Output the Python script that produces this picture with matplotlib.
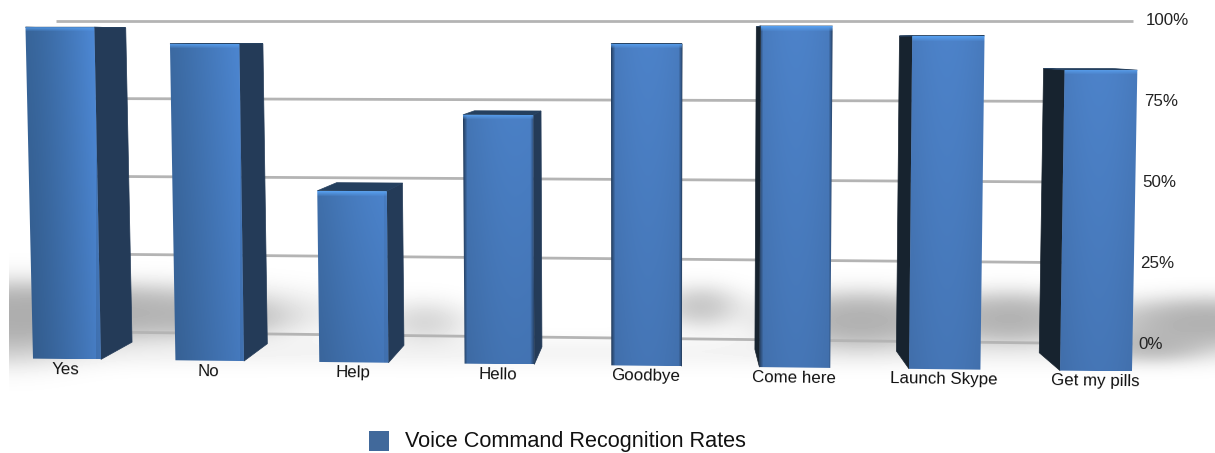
import numpy as np
import matplotlib
matplotlib.use("Agg")
import matplotlib.pyplot as plt
from matplotlib.patches import Polygon, Rectangle

plt.rcParams['font.family'] = ['Liberation Sans', 'DejaVu Sans']

# Recognition rate per voice command (percent)
commands = ["Yes", "No", "Help", "Hello", "Goodbye", "Come here", "Launch Skype", "Get my pills"]
rates = [97.6, 92.7, 49.9, 72.2, 92.8, 98, 95.2, 85.5]
tick_values = [100, 75, 50, 25, 0]
tick_labels = ["100%", "75%", "50%", "25%", "0%"]
legend_label = "Voice Command Recognition Rates"

W, H = 1215, 453

# Perspective set-up, in pixels
VANISH_X, VANISH_Y = 676, 40
BAR_BACK = 0.946    # scale of the rear face of a bar
WALL = 0.916        # scale of the wall holding the gridlines
TOP_Y = 19          # the 100% level is level across the chart
BAR_W = 34


def base_x(i):
    # bar centres spread out a little towards the right
    return 67 + 142 * i + 0.714 * i * i


def front(x, pct):
    # front plane: x, pct -> pixel position
    y0 = 359 + (x - 67) * 12 / 1029
    return x + (x - 640) * 0.0127 * pct / 100, y0 - (y0 - TOP_Y) * pct / 100


def push_back(px, py, scale):
    return VANISH_X + (px - VANISH_X) * scale, VANISH_Y + (py - VANISH_Y) * scale


def wall_y(wx, pct):
    fx = VANISH_X + (wx - VANISH_X) / WALL
    _, fy = front(fx, pct)
    return VANISH_Y + (fy - VANISH_Y) * WALL


def floor_shadow():
    # soft grey band behind the foot of the bars
    yy, xx = np.mgrid[0:H, 0:W]
    blobs = [
        (90, 312, 105, 16, 0.55),
        (8, 322, 45, 22, 0.35),
        (225, 318, 35, 11, 0.18),
        (425, 322, 28, 14, 0.13),
        (700, 306, 24, 13, 0.22),
        (860, 320, 50, 16, 0.55),
        (1010, 318, 45, 15, 0.50),
        (1205, 322, 55, 14, 0.55),
        (1150, 345, 35, 10, 0.30),
    ]
    d = np.zeros((H, W))
    for cx, cy, sx, sy, amp in blobs:
        d += amp * np.exp(-((xx - cx) / sx) ** 2 / 2 - ((yy - cy) / sy) ** 2 / 2)
    # faint fade under the baseline, all the way across
    d += 0.03 * np.exp(-((yy - 352) / 16.0) ** 2)
    d = 0.33 * (1 - np.exp(-d * 4.5))
    d[:, :9] = 0
    return 1 - d


def face_shading(i, nx, ny):
    # horizontal gradient across a front face, fading slightly towards the bottom
    u = np.linspace(0, 1, nx)
    v = np.linspace(0, 1, ny)[:, None]
    k = i / 7
    dark = np.array([0.21, 0.38, 0.58])
    bright = np.array([0.30, 0.53, 0.83])
    flat = np.array([0.27, 0.46, 0.71])
    left_bar = dark[None, :] + (bright - dark)[None, :] * (u ** 1.3)[:, None]
    left_bar[u > 0.94] *= 0.9
    right_bar = flat[None, :] * (1 + 0.07 * np.sin(u * np.pi))[:, None]
    row = (1 - min(k * 1.7, 1)) * left_bar + min(k * 1.7, 1) * right_bar
    img = row[None, :, :] * (1.04 - 0.10 * v)[:, :, None]
    # dark rims on the bars seen nearly head on
    rim = np.clip(1 - np.minimum(u, 1 - u) * nx / 4, 0, 1) * 0.45 * (3 <= i <= 5)
    img = img * (1 - rim)[None, :, None]
    # highlight along the top edge
    top = np.clip(1 - np.arange(ny) / 5.0, 0, 1)[:, None, None]
    return np.clip(img * (1 - top) + np.array([0.34, 0.62, 0.93]) * top, 0, 1)


def draw_bar(ax, i, pct):
    cx = base_x(i)
    half = BAR_W + 0.25 * i / 7 * 8
    x0, x1 = cx - half, cx + half
    bl, br = front(x0, 0), front(x1, 0)
    tl, tr = front(x0, pct), front(x1, pct)
    is_left = (x0 + x1) / 2 < VANISH_X

    # side face towards the vanishing point
    if is_left:
        near_b, near_t = br, tr
        side_col = "#243b58"
    else:
        near_b, near_t = bl, tl
        side_col = "#17232f"
    far_b = push_back(*near_b, BAR_BACK)
    far_t = push_back(*near_t, BAR_BACK)
    ax.add_patch(Polygon([near_b, near_t, far_t, far_b], fc=side_col, ec=side_col, lw=0.5, zorder=3))

    # top face
    corners = [tl, tr, push_back(*tr, BAR_BACK), push_back(*tl, BAR_BACK)]
    ax.add_patch(Polygon(corners, fc="#25405f", ec="#25405f", lw=0.5, zorder=3))

    # front face with its gradient clipped to the quad
    quad = Polygon([bl, tl, tr, br], fc="none", ec="none", zorder=4)
    ax.add_patch(quad)
    left, right = min(tl[0], bl[0]), max(tr[0], br[0])
    top, bottom = min(tl[1], tr[1]), max(bl[1], br[1])
    img = face_shading(i, int(right - left) + 1, int(bottom - top) + 1)
    im = ax.imshow(img, extent=(left, right, bottom, top), aspect="auto", zorder=4, interpolation="bilinear")
    im.set_clip_path(quad)


fig = plt.figure(figsize=(W / 100, H / 100), dpi=100)
ax = fig.add_axes([0, 0, 1, 1])
ax.axis("off")

ax.imshow(floor_shadow(), cmap="gray", vmin=0, vmax=1, extent=(0, W, H, 0), aspect="auto", zorder=0)

# Gridlines on the rear wall
for val in tick_values:
    xs = np.array([56, 1133])
    ax.plot(xs, wall_y(xs, val), color="#b4b4b4", lw=2.0, zorder=1, solid_capstyle="butt")

for i, pct in enumerate(rates):
    draw_bar(ax, i, pct)

# Value axis labels
for val, lab in zip(tick_values, tick_labels):
    y = wall_y(1133.0, val)
    ax.text(1138 + 0.08 * val, y, lab, fontsize=12.2, color="#222222", va="center", ha="left", zorder=5)

# Category labels under the bars
for i, lab in enumerate(commands):
    cx = base_x(i)
    _, y0 = front(cx, 0)
    ax.text(cx - 1, y0 + 10.5, lab, fontsize=12.2, color="#111111", va="center", ha="center", rotation=-0.8, zorder=5)

# Legend
ax.add_patch(Rectangle((369, 431), 20, 20, fc="#41699b", ec="none", zorder=5))
ax.text(405, 441, legend_label, fontsize=15.6, color="#111111", va="center", ha="left", zorder=5)

ax.set_xlim(0, W)
ax.set_ylim(H, 0)
fig.savefig("out.png", dpi=100)
